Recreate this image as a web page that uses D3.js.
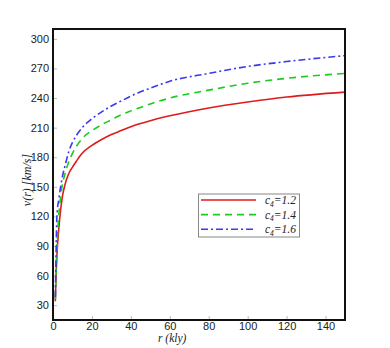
<!DOCTYPE html>
<html><head><meta charset="utf-8">
<script src="https://cdn.jsdelivr.net/npm/d3@7/dist/d3.min.js"></script>
<style>body{margin:0;background:#fff}</style>
</head><body>
<svg id="c" width="390" height="348"></svg>
<script>
const radii = [1.2, 1.5, 2, 3, 4, 5, 6, 8, 10, 12, 15, 20, 25, 30, 35, 40, 50, 60, 80, 100, 120, 150];
const vC12 = [34, 55, 80, 108, 128, 142, 151, 163, 170, 176, 184, 192, 198, 203, 207, 211, 217, 222, 230, 236, 241, 246];
const vC14 = [36, 60, 88, 122, 141, 154, 162, 175, 184, 191, 199, 207, 213, 218, 223, 227, 234, 240, 248, 255, 260, 265];
const vC16 = [38, 75, 120, 138, 151, 162, 170, 185, 195, 202, 210, 219, 226, 232, 237, 242, 250, 257, 265, 272, 277, 283];
const seriesNames = ["1.2", "1.4", "1.6"];
const xTicks = [0, 20, 40, 60, 80, 100, 120, 140];
const yTicks = [30, 60, 90, 120, 150, 180, 210, 240, 270, 300];

const svg = d3.select("#c");
const L = 53, R = 345, T = 29, B = 320;
const x = d3.scaleLinear().domain([0, 150]).range([L, R]);
const y = d3.scaleLinear().domain([15, 310]).range([B, T]);

const series = [
  {name: seriesNames[0], vals: vC12, color: "#dd1c1c", dash: null},
  {name: seriesNames[1], vals: vC14, color: "#1ccc1c", dash: "7,5"},
  {name: seriesNames[2], vals: vC16, color: "#3a3aee", dash: "7,3,2,3"}
];

svg.append("defs").append("clipPath").attr("id","cp")
  .append("rect").attr("x", L).attr("y", T).attr("width", R-L).attr("height", B-T);

const gx = svg.append("g").attr("transform", `translate(0,${B})`)
  .call(d3.axisBottom(x).tickValues(xTicks).tickSize(-4).tickPadding(2));
const gy = svg.append("g").attr("transform", `translate(${L},0)`)
  .call(d3.axisLeft(y).tickValues(yTicks).tickSize(-4).tickPadding(4));
[gx, gy].forEach(g => {
  g.select(".domain").remove();
  g.selectAll(".tick line").attr("stroke", "#bbb");
  g.selectAll("text").attr("font-family", "Liberation Sans, Arial, sans-serif")
    .attr("font-size", 11).attr("fill", "#222");
});

const line = d3.line().x((d,i) => x(radii[i])).y(d => y(d)).curve(d3.curveMonotoneX);
series.forEach(s => {
  svg.append("path").attr("clip-path","url(#cp)")
    .attr("d", line(s.vals)).attr("fill","none")
    .attr("stroke", s.color).attr("stroke-width", 1.6)
    .attr("stroke-dasharray", s.dash);
});

svg.append("rect").attr("x", L).attr("y", T).attr("width", R-L).attr("height", B-T)
  .attr("fill","none").attr("stroke","#111").attr("stroke-width", 2);

const lg = svg.append("g");
lg.append("rect").attr("x", 198.5).attr("y", 194).attr("width", 101).attr("height", 43)
  .attr("fill","#fff").attr("stroke","#888").attr("stroke-width",1);
series.forEach((s, i) => {
  const yy = 200 + i * 14.6;
  lg.append("line").attr("x1", 201).attr("x2", 256).attr("y1", yy).attr("y2", yy)
    .attr("stroke", s.color).attr("stroke-width", 1.6).attr("stroke-dasharray", s.dash);
  const t = lg.append("text").attr("x", 265).attr("y", yy + 4)
    .attr("font-family", "Liberation Serif, Times New Roman, serif")
    .attr("font-style","italic").attr("font-size", 11.5).attr("fill","#222");
  t.append("tspan").text("c");
  t.append("tspan").attr("font-size", 7.5).attr("dy", 2.5).text("4");
  t.append("tspan").attr("dy", -2.5).text("=" + s.name);
});

svg.append("text").attr("x", 158).attr("y", 342)
  .attr("font-family", "Liberation Serif, Times New Roman, serif")
  .attr("font-style","italic").attr("font-size", 11.5).attr("fill","#222").text("r (kly)");
svg.append("text").attr("transform", "translate(31,180) rotate(-90)").attr("text-anchor","middle")
  .attr("font-family", "Liberation Serif, Times New Roman, serif")
  .attr("font-style","italic").attr("font-size", 12).attr("fill","#222").text("v(r) [km/s]");
</script>
</body></html>
